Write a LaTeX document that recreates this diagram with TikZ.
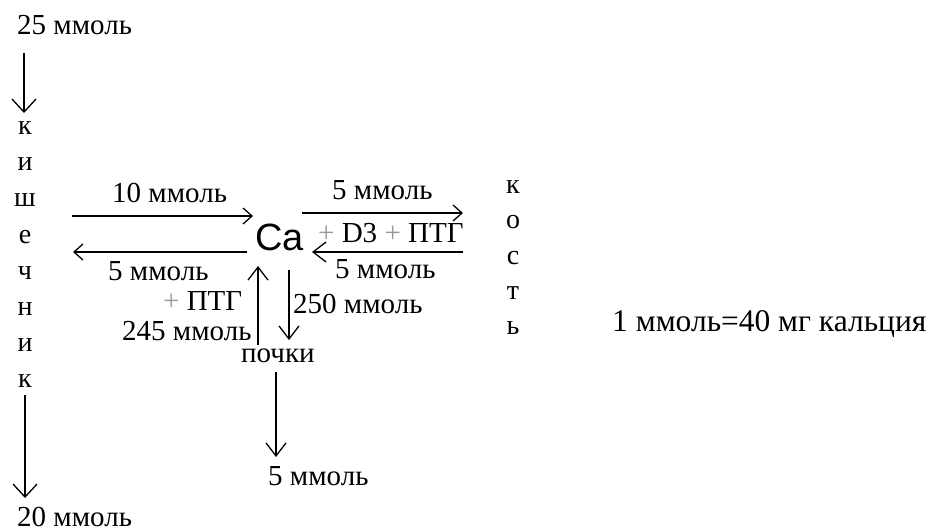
\documentclass[tikz,border=0pt]{standalone}
\usepackage{fontspec}
\setmainfont{Liberation Serif}
\newfontfamily\casans{Liberation Sans}
\usetikzlibrary{arrows.meta}
\tikzset{
  lbl/.style={anchor=base west,inner sep=0pt,font=\fontsize{29}{29}\selectfont},
  big/.style={anchor=base west,inner sep=0pt,font=\fontsize{31.5}{31.5}\selectfont},
  ltr/.style={anchor=center,inner sep=0pt,font=\fontsize{28}{28}\selectfont},
  arrbig/.style={line width=1.3pt,-{Straight Barb[length=13pt,width=24pt,line width=1.3pt]}},
  arrmid/.style={line width=1.3pt,-{Straight Barb[length=13pt,width=20pt,line width=1.3pt]}},
  arrsm/.style={line width=1.3pt,-{Straight Barb[length=9pt,width=16pt,line width=1.3pt]}}
}
\begin{document}
\begin{tikzpicture}[x=1pt,y=-1pt]
\useasboundingbox (0,0) rectangle (931,528);
% intestine column
\node[lbl] (t25) at (17,34) {25 ммоль};
\coordinate (a1s) at (24,53);
\coordinate (a1e) at (24,113);
\draw[arrbig] (a1s) -- (a1e);
\foreach \l [count=\i from 0] in {к,и,ш,е,ч,н,и,к}{
  \node[ltr] (k\i) at (25,128+36.2*\i) {\l};
}
\coordinate (a2s) at (25,395);
\coordinate (a2e) at (25,498);
\draw[arrbig] (a2s) -- (a2e);
\node[lbl] (t20) at (17,526) {20 ммоль};
% Ca
\node[anchor=base west,inner sep=0pt,font=\casans\fontsize{38}{38}\selectfont] (ca) at (255,250) {Ca};
% left exchange
\node[lbl] (t10) at (112,202) {10 ммоль};
\coordinate (l1s) at (72,216);
\coordinate (l1e) at (253,216);
\draw[arrsm] (l1s) -- (l1e);
\coordinate (l2s) at (247,252);
\coordinate (l2e) at (73,252);
\draw[arrsm] (l2s) -- (l2e);
\node[lbl] (t5a) at (108,280) {5 ммоль};
\node[lbl] (pptg) at (163,310) {\textcolor{black!40}{+} ПТГ};
\node[lbl] (t245) at (122,340) {245 ммоль};
% kidney exchange
\coordinate (ups) at (258,345);
\coordinate (upe) at (258,266);
\draw[arrmid] (ups) -- (upe);
\coordinate (dns) at (289,270);
\coordinate (dne) at (289,340);
\draw[arrmid] (dns) -- (dne);
\node[lbl] (t250) at (293,313) {250 ммоль};
\node[lbl] (poch) at (241,362) {почки};
\coordinate (k2s) at (276,372);
\coordinate (k2e) at (276,457);
\draw[arrmid] (k2s) -- (k2e);
\node[lbl] (t5d) at (268,485) {5 ммоль};
% bone exchange
\node[lbl] (t5b) at (332,199) {5 ммоль};
\coordinate (r1s) at (302,213);
\coordinate (r1e) at (463,213);
\draw[arrsm] (r1s) -- (r1e);
\node[lbl] (d3) at (318,242) {\textcolor{black!40}{+} D3 \textcolor{black!40}{+} ПТГ};
\coordinate (r2s) at (463,252);
\coordinate (r2e) at (312,252);
\draw[arrmid] (r2s) -- (r2e);
\node[lbl] (t5c) at (335,278) {5 ммоль};
\foreach \l [count=\i from 0] in {к,о,с,т,ь}{
  \node[ltr] (b\i) at (513,187+35.3*\i) {\l};
}
% note
\node[big] (note) at (612,331) {1 ммоль=40 мг кальция};
\end{tikzpicture}
\end{document}
